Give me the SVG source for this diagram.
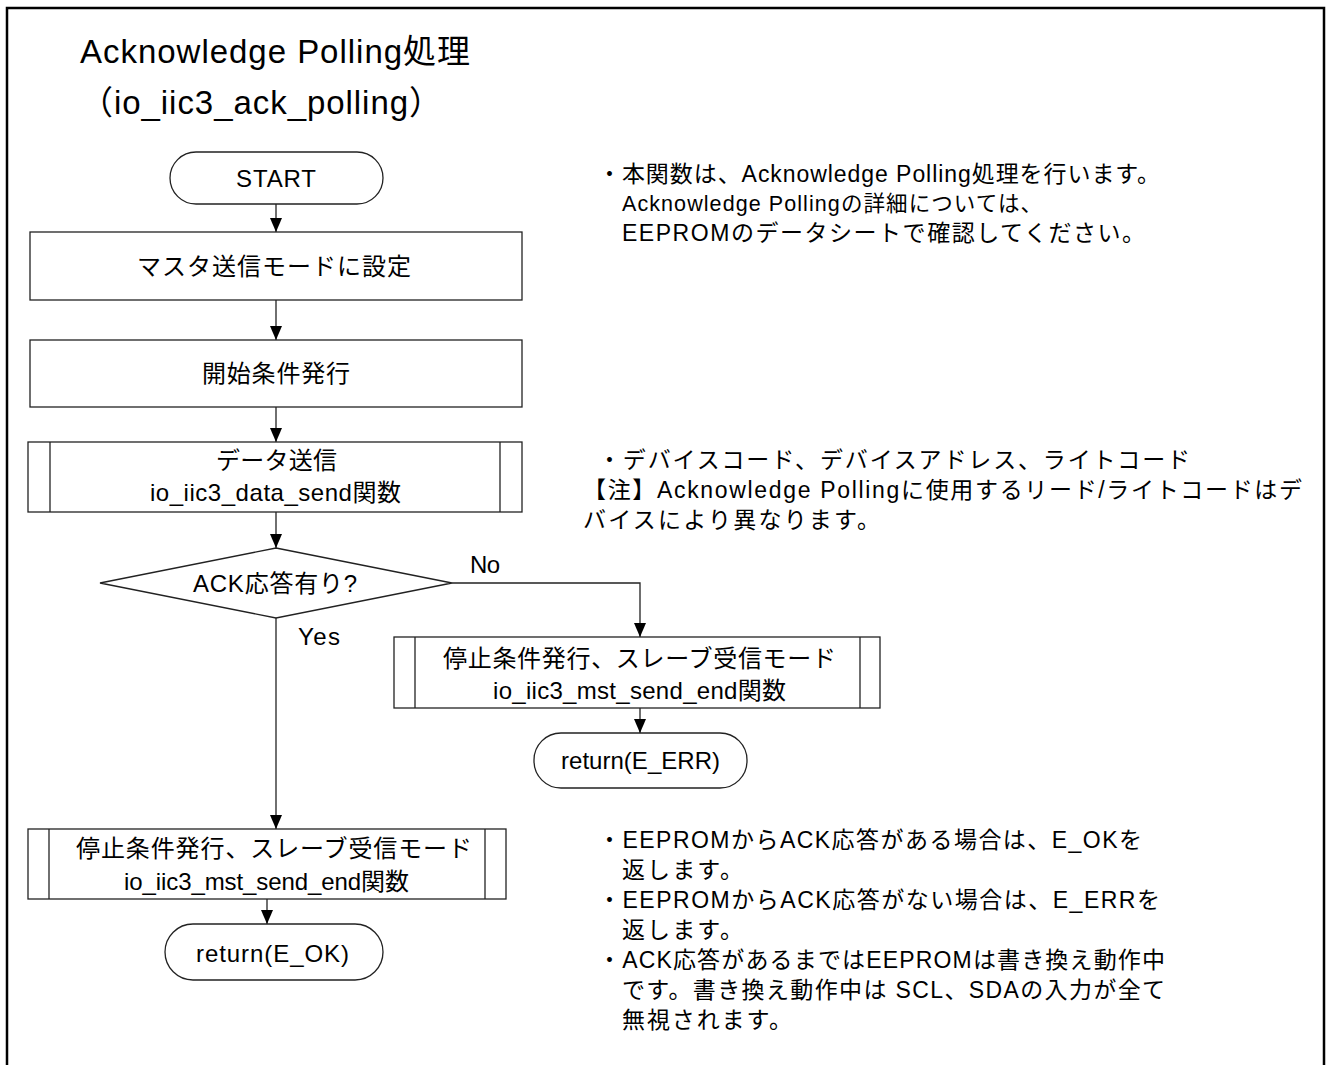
<svg xmlns="http://www.w3.org/2000/svg" width="1327" height="1065" viewBox="0 0 1327 1065">
<style>
text{font-family:"Liberation Sans","Noto Sans CJK JP",sans-serif;fill:#000}
.t{font-size:24px}
.n{font-size:23px}
.title{font-size:33px}
.shape{fill:#fff;stroke:#222;stroke-width:1.3}
.line{fill:none;stroke:#222;stroke-width:1.3}
</style>
<defs>
<marker id="ah" markerWidth="14" markerHeight="12" refX="14" refY="6" orient="auto" markerUnits="userSpaceOnUse">
<path d="M0,0 L14,6 L0,12 Z" fill="#000"/>
</marker>
</defs>
<rect width="1327" height="1065" fill="#fff"/>
<path d="M7,1065 V8 H1324 V1065" fill="none" stroke="#000" stroke-width="2.5"/>
<g id="title">
<text class="title" x="80" y="63" textLength="390" lengthAdjust="spacing">Acknowledge Polling処理</text>
<text class="title" x="80" y="114" textLength="362" lengthAdjust="spacing">（io_iic3_ack_polling）</text>
</g>
<g id="connectors">
<line class="line" x1="276" y1="204" x2="276" y2="232" marker-end="url(#ah)"/>
<line class="line" x1="276" y1="300" x2="276" y2="340" marker-end="url(#ah)"/>
<line class="line" x1="276" y1="407" x2="276" y2="442" marker-end="url(#ah)"/>
<line class="line" x1="276" y1="512" x2="276" y2="548" marker-end="url(#ah)"/>
<polyline class="line" points="452,583 640,583 640,637" marker-end="url(#ah)"/>
<line class="line" x1="640" y1="708" x2="640" y2="733" marker-end="url(#ah)"/>
<line class="line" x1="276" y1="618" x2="276" y2="829" marker-end="url(#ah)"/>
<line class="line" x1="267" y1="899" x2="267" y2="924" marker-end="url(#ah)"/>
<text class="t" x="470" y="573" textLength="30" lengthAdjust="spacing">No</text>
<text class="t" x="298" y="645" textLength="42" lengthAdjust="spacing">Yes</text>
</g>
<g id="start">
<rect class="shape" x="170" y="152" width="213" height="52" rx="26"/>
<text class="t" x="236" y="187" textLength="80" lengthAdjust="spacing">START</text>
</g>
<g id="set-master">
<rect class="shape" x="30" y="232" width="492" height="68"/>
<text class="t" x="137" y="275" textLength="274" lengthAdjust="spacing">マスタ送信モードに設定</text>
</g>
<g id="start-cond">
<rect class="shape" x="30" y="340" width="492" height="67"/>
<text class="t" x="202" y="382" textLength="148" lengthAdjust="spacing">開始条件発行</text>
</g>
<g id="data-send">
<rect class="shape" x="28" y="442" width="494" height="70"/>
<line class="line" x1="50" y1="442" x2="50" y2="512"/>
<line class="line" x1="500" y1="442" x2="500" y2="512"/>
<text class="t" x="216" y="469" textLength="121" lengthAdjust="spacing">データ送信</text>
<text class="t" x="150" y="501" textLength="251" lengthAdjust="spacing">io_iic3_data_send関数</text>
</g>
<g id="ack-check">
<polygon class="shape" points="276,548 452,583 276,618 100,583"/>
<text class="t" x="193" y="592" textLength="164" lengthAdjust="spacing">ACK応答有り?</text>
</g>
<g id="stop-err">
<rect class="shape" x="394" y="637" width="486" height="71"/>
<line class="line" x1="415" y1="637" x2="415" y2="708"/>
<line class="line" x1="860" y1="637" x2="860" y2="708"/>
<text class="t" x="443" y="667" textLength="393" lengthAdjust="spacing">停止条件発行、スレーブ受信モード</text>
<text class="t" x="493" y="699" textLength="293" lengthAdjust="spacing">io_iic3_mst_send_end関数</text>
</g>
<g id="ret-err">
<rect class="shape" x="534" y="733" width="213" height="55" rx="27"/>
<text class="t" x="561" y="769" textLength="159" lengthAdjust="spacing">return(E_ERR)</text>
</g>
<g id="stop-ok">
<rect class="shape" x="28" y="829" width="478" height="70"/>
<line class="line" x1="49" y1="829" x2="49" y2="899"/>
<line class="line" x1="485" y1="829" x2="485" y2="899"/>
<text class="t" x="76" y="857" textLength="396" lengthAdjust="spacing">停止条件発行、スレーブ受信モード</text>
<text class="t" x="124" y="890" textLength="285" lengthAdjust="spacing">io_iic3_mst_send_end関数</text>
</g>
<g id="ret-ok">
<rect class="shape" x="165" y="924" width="218" height="56" rx="28"/>
<text class="t" x="196" y="962" textLength="153" lengthAdjust="spacing">return(E_OK)</text>
</g>
<g id="notes">
<text class="n" x="598" y="182" textLength="562" lengthAdjust="spacing">・本関数は、Acknowledge Polling処理を行います。</text>
<text class="n" x="622" y="211" textLength="420" lengthAdjust="spacing" style="font-size:21.5px">Acknowledge Pollingの詳細については、</text>
<text class="n" x="622" y="241" textLength="523" lengthAdjust="spacing">EEPROMのデータシートで確認してください。</text>
<text class="n" x="598" y="468" textLength="592" lengthAdjust="spacing">・デバイスコード、デバイスアドレス、ライトコード</text>
<text class="n" x="583" y="498" textLength="719" lengthAdjust="spacing">【注】Acknowledge Pollingに使用するリード/ライトコードはデ</text>
<text class="n" x="583" y="528" textLength="297" lengthAdjust="spacing">バイスにより異なります。</text>
<text class="n" x="598" y="848" textLength="544" lengthAdjust="spacing">・EEPROMからACK応答がある場合は、E_OKを</text>
<text class="n" x="622" y="878" textLength="121" lengthAdjust="spacing">返します。</text>
<text class="n" x="598" y="908" textLength="562" lengthAdjust="spacing">・EEPROMからACK応答がない場合は、E_ERRを</text>
<text class="n" x="622" y="938" textLength="121" lengthAdjust="spacing">返します。</text>
<text class="n" x="598" y="968" textLength="567" lengthAdjust="spacing">・ACK応答があるまではEEPROMは書き換え動作中</text>
<text class="n" x="622" y="998" textLength="543" lengthAdjust="spacing">です。書き換え動作中は SCL、SDAの入力が全て</text>
<text class="n" x="622" y="1028" textLength="170" lengthAdjust="spacing">無視されます。</text>
</g>
</svg>
